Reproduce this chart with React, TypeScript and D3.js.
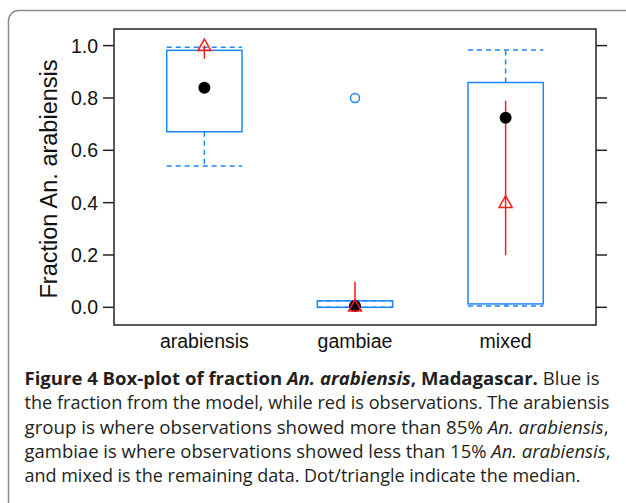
import { scaleLinear, format } from 'd3'

const width = 626
const height = 503

// categories and values
const groups = ['arabiensis', 'gambiae', 'mixed']
// model (blue): lower whisker, Q1, median, Q3, upper whisker
const modelLow = [0.54, 0.0, 0.005]
const modelQ1 = [0.671, 0.0, 0.013]
const modelMedian = [0.839, 0.005, 0.724]
const modelQ3 = [0.982, 0.025, 0.859]
const modelHigh = [0.994, 0.025, 0.983]
const modelOutliers = [[], [0.8], []]
// observations (red): median and range
const obsMedian = [1.0, 0.005, 0.401]
const obsLow = [0.95, 0.0, 0.199]
const obsHigh = [1.0, 0.098, 0.789]

const yTicks = [0, 0.2, 0.4, 0.6, 0.8, 1.0]
const yLabel = 'Fraction An. arabiensis'

// caption lines: [text, style] pieces
const caption = [
  [['Figure 4 Box-plot of fraction ', 'b'], ['An. arabiensis', 'bi'], [', Madagascar.', 'b'], [' Blue is', 'r']],
  [['the fraction from the model, while red is observations. The arabiensis', 'r']],
  [['group is where observations showed more than 85% ', 'r'], ['An. arabiensis', 'i'], [',', 'r']],
  [['gambiae is where observations showed less than 15% ', 'r'], ['An. arabiensis', 'i'], [',', 'r']],
  [['and mixed is the remaining data. Dot/triangle indicate the median.', 'r']],
]
const captionWidths = [575, 585, 584, 586, 556]

const blue = '#1c86ff'
const red = '#ff1a1a'
const plot = { left: 114, right: 596, top: 29, bottom: 325 }

const x = scaleLinear().domain([0.4, 3.6]).range([plot.left, plot.right])
const y = scaleLinear().domain([-0.0675, 1.0635]).range([plot.bottom, plot.top])
const fmt = format('.1f')
const half = 0.25

function App() {
  const tri = (cx: number, cy: number) =>
    `M${cx},${cy - 6.5} L${cx + 6.5},${cy + 5} L${cx - 6.5},${cy + 5} Z`

  return (
    <svg width={width} height={height} style={{ position: 'absolute', left: 0, top: 0 }}
      fontFamily="'Liberation Sans', Arial, sans-serif">
      <rect x={8.5} y={10.5} width={700} height={600} rx={10} fill="white" stroke="#8c8c8c" strokeWidth={1.5} />

      {/* axes frame and ticks */}
      <rect x={plot.left} y={plot.top} width={plot.right - plot.left} height={plot.bottom - plot.top}
        fill="none" stroke="#222" strokeWidth={1.5} />
      {yTicks.map(t => (
        <g key={t}>
          <line x1={plot.left - 11} x2={plot.left} y1={y(t)} y2={y(t)} stroke="#222" strokeWidth={1.5} />
          <line x1={plot.right} x2={plot.right + 11} y1={y(t)} y2={y(t)} stroke="#222" strokeWidth={1.5} />
          <text x={plot.left - 16} y={y(t)} dy="0.36em" textAnchor="end" fontSize={19.5} fill="#111">{fmt(t)}</text>
        </g>
      ))}
      <text transform={`translate(56.5, 179) rotate(-90)`} textAnchor="middle"
        fontSize={23.5} fill="#111">{yLabel}</text>
      {groups.map((g, i) => (
        <text key={g} x={x(i + 1)} y={347.5} textAnchor="middle" fontSize={19.5} fill="#111">{g}</text>
      ))}

      {/* model boxes */}
      {groups.map((g, i) => {
        const cx = x(i + 1)
        const x0 = x(i + 1 - half)
        const x1 = x(i + 1 + half)
        return (
          <g key={g} stroke={blue} strokeWidth={1.5} fill="none">
            <rect x={x0} y={y(modelQ3[i])} width={x1 - x0} height={y(modelQ1[i]) - y(modelQ3[i])} />
            <line x1={cx} x2={cx} y1={y(modelQ3[i])} y2={y(modelHigh[i])} strokeDasharray="5,4" />
            <line x1={cx} x2={cx} y1={y(modelQ1[i])} y2={y(modelLow[i])} strokeDasharray="5,4" />
            <line x1={x0} x2={x1} y1={y(modelHigh[i])} y2={y(modelHigh[i])} strokeDasharray="5,4" />
            <line x1={x0} x2={x1} y1={y(modelLow[i])} y2={y(modelLow[i])} strokeDasharray="5,4" />
            {modelOutliers[i].map((o, j) => (
              <circle key={j} cx={cx} cy={y(o)} r={4.5} />
            ))}
          </g>
        )
      })}

      {/* observations range */}
      {groups.map((g, i) => (
        <line key={g} x1={x(i + 1)} x2={x(i + 1)} y1={y(obsLow[i])} y2={y(obsHigh[i])} stroke={red} strokeWidth={1.5} />
      ))}
      {/* model medians */}
      {groups.map((g, i) => (
        <circle key={g} cx={x(i + 1)} cy={y(modelMedian[i])} r={6} fill="black" />
      ))}
      {/* observation medians */}
      {groups.map((g, i) => (
        <path key={g} d={tri(x(i + 1), y(obsMedian[i]))} fill="none" stroke={red} strokeWidth={1.5} />
      ))}

      {/* caption */}
      {caption.map((line, li) => (
        <text key={li} x={24.5} y={385 + li * 24.25} fontSize={18} fill="#231f20"
          fontFamily="'Open Sans', 'Noto Sans', sans-serif"
          textLength={captionWidths[li]} lengthAdjust="spacingAndGlyphs">
          {line.map(([t, s], k) => (
            <tspan key={k} fontWeight={s.includes('b') ? 'bold' : 'normal'}
              fontStyle={s.includes('i') ? 'italic' : 'normal'}>{t}</tspan>
          ))}
        </text>
      ))}
    </svg>
  )
}

export default App
